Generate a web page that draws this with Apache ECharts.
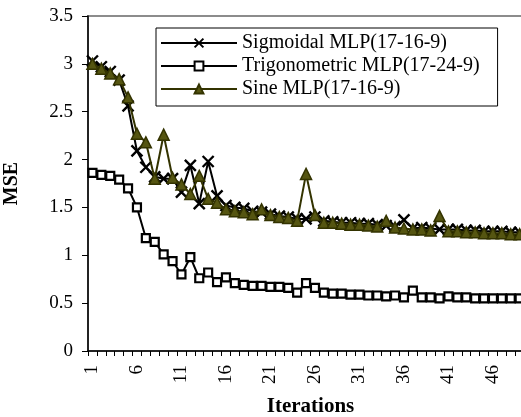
<!DOCTYPE html>
<html>
<head>
<meta charset="utf-8">
<script src="https://cdn.jsdelivr.net/npm/echarts@6/dist/echarts.min.js"></script>
<style>
html,body{margin:0;padding:0;background:#fff;}
#chart{width:521px;height:417px;}
</style>
</head>
<body>
<div id="chart"></div>
<script>
var iterations = [];
for (var k = 1; k <= 50; k++) iterations.push(String(k));

var sigmoidal = [3.03,2.97,2.92,2.83,2.56,2.09,1.92,1.82,1.80,1.80,
  1.66,1.94,1.54,1.98,1.62,1.52,1.50,1.49,1.46,1.45,
  1.43,1.41,1.40,1.38,1.38,1.40,1.36,1.35,1.34,1.34,
  1.33,1.33,1.32,1.31,1.30,1.37,1.28,1.29,1.28,1.27,
  1.27,1.27,1.26,1.26,1.25,1.25,1.25,1.24,1.24,1.23];
var trigonometric = [1.86,1.84,1.83,1.79,1.70,1.50,1.18,1.14,1.01,0.94,
  0.80,0.98,0.76,0.82,0.72,0.77,0.71,0.69,0.68,0.68,
  0.67,0.67,0.66,0.61,0.71,0.66,0.61,0.60,0.60,0.59,
  0.59,0.58,0.58,0.57,0.58,0.56,0.63,0.56,0.56,0.55,
  0.57,0.56,0.56,0.55,0.55,0.55,0.55,0.55,0.55,0.55];
var sine = [3.00,2.95,2.90,2.84,2.65,2.27,2.18,1.80,2.26,1.81,
  1.74,1.64,1.83,1.59,1.55,1.48,1.46,1.45,1.43,1.48,
  1.42,1.40,1.39,1.36,1.85,1.42,1.34,1.34,1.33,1.32,
  1.32,1.31,1.30,1.36,1.29,1.28,1.27,1.27,1.26,1.41,
  1.25,1.25,1.24,1.24,1.23,1.23,1.23,1.22,1.22,1.21];
var seriesNames = ['Sigmoidal MLP(17-16-9)','Trigonometric MLP(17-24-9)','Sine MLP(17-16-9)'];

var FONT = 'Liberation Serif';
var chart = echarts.init(document.getElementById('chart'), null, {renderer:'canvas'});
chart.setOption({
  animation: false,
  backgroundColor: '#fff',
  grid: {left: 88, top: 16, right: -12, bottom: 66, outerBoundsMode: 'none', containLabel: false,
    show: true, borderColor: '#8c8c8c', borderWidth: 2, backgroundColor: 'transparent'},
  legend: {
    orient: 'vertical', left: 156, top: 28,
    padding: [5, 18, 7, 4], itemGap: 3, itemWidth: 76, itemHeight: 11,
    backgroundColor: '#fff', borderColor: '#000', borderWidth: 1,
    textStyle: {fontFamily: FONT, fontSize: 20, color: '#000', lineHeight: 20},
    data: seriesNames
  },
  xAxis: {
    type: 'category', data: iterations, boundaryGap: true,
    name: 'Iterations', nameLocation: 'middle', nameGap: 45,
    nameTextStyle: {fontFamily: FONT, fontSize: 21, fontWeight: 'bold', color: '#000'},
    axisLine: {lineStyle: {color: '#000', width: 1.5}},
    axisTick: {show: true, interval: 0, length: 5, lineStyle: {color: '#000'}},
    axisLabel: {interval: 4, rotate: 90, margin: 14, fontFamily: FONT, fontSize: 19, color: '#000'},
    splitLine: {show: false}
  },
  yAxis: {
    type: 'value', min: 0, max: 3.5, interval: 0.5,
    name: 'MSE', nameLocation: 'middle', nameGap: 66, nameRotate: 90,
    nameTextStyle: {fontFamily: FONT, fontSize: 20, fontWeight: 'bold', color: '#000'},
    axisLine: {show: true, lineStyle: {color: '#000', width: 1.5}},
    axisTick: {show: true, length: 6, lineStyle: {color: '#000'}},
    axisLabel: {margin: 15, fontFamily: FONT, fontSize: 19, color: '#000'},
    splitLine: {show: false}
  },
  series: [
    {
      name: seriesNames[0], type: 'line', data: sigmoidal,
      symbol: 'path://M0,0L10,10M0,10L10,0', symbolSize: 11, symbolKeepAspect: true, showAllSymbol: true,
      lineStyle: {color: '#000', width: 2},
      itemStyle: {color: '#000', borderColor: '#000', borderWidth: 2.4},
      z: 2
    },
    {
      name: seriesNames[1], type: 'line', data: trigonometric,
      symbol: 'rect', symbolSize: 8, showAllSymbol: true,
      lineStyle: {color: '#000', width: 2},
      itemStyle: {color: '#fff', borderColor: '#000', borderWidth: 2.2},
      z: 3
    },
    {
      name: seriesNames[2], type: 'line', data: sine,
      symbol: 'triangle', symbolSize: 11, showAllSymbol: true,
      lineStyle: {color: '#333300', width: 2},
      itemStyle: {color: '#555511', borderColor: '#333300', borderWidth: 1.5},
      z: 4
    }
  ]
});
</script>
</body>
</html>
